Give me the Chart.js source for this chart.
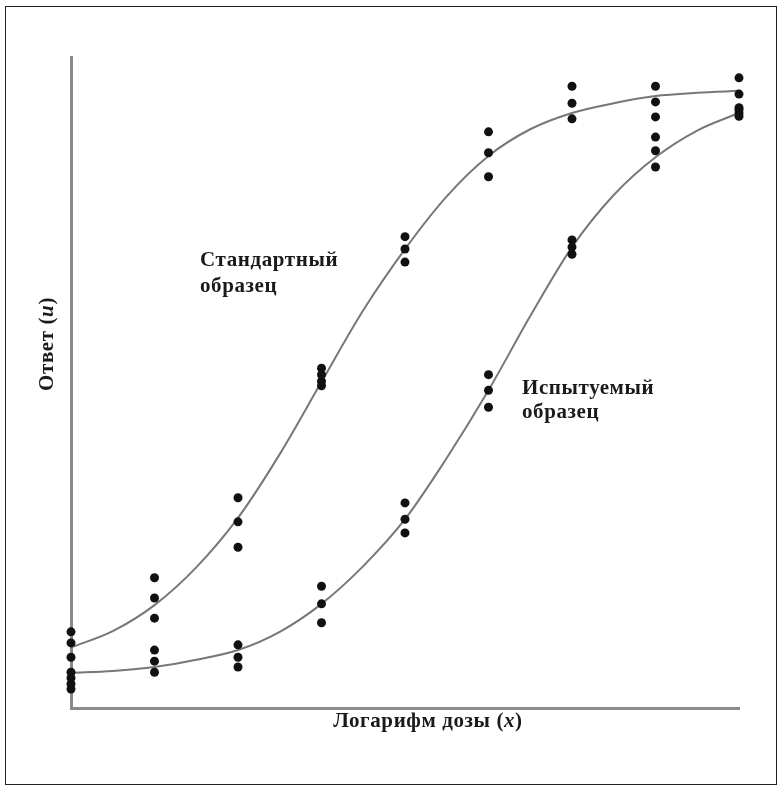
<!DOCTYPE html>
<html>
<head>
<meta charset="utf-8">
<script src="https://cdn.jsdelivr.net/npm/chart.js@4.4.1/dist/chart.umd.min.js"></script>
<style>
  html, body { margin: 0; padding: 0; background: #fff; }
  #wrap { position: relative; width: 784px; height: 791px; }
  #frame { position: absolute; left: 5px; top: 6px; width: 772px; height: 779px; border: 1px solid #222; box-sizing: border-box; pointer-events: none; }
  canvas { position: absolute; left: 0; top: 0; }
</style>
</head>
<body>
<div id="wrap">
  <canvas id="chart" width="784" height="791"></canvas>
  <div id="frame"></div>
</div>
<script>
// log dose positions (x) for the dose columns
const doses = [0, 1, 2, 3, 4, 5, 6, 7, 8];

const standardObs = [
  [11.7, 10.0, 7.8],
  [20.0, 16.9, 13.8],
  [32.3, 28.6, 24.7],
  [52.2, 51.2, 50.2, 49.5],
  [72.4, 70.5, 68.5],
  [88.5, 85.3, 81.6],
  [95.5, 92.9, 90.5],
  [95.5, 93.1, 90.8],
  [96.8, 94.3, 92.2]
];
const testObs = [
  [5.5, 4.6, 3.7, 2.9],
  [8.9, 7.2, 5.5],
  [9.7, 7.8, 6.3],
  [18.7, 16.0, 13.1],
  [31.5, 29.0, 26.9],
  [51.2, 48.8, 46.2],
  [71.9, 70.8, 69.7],
  [87.7, 85.6, 83.1],
  [91.9, 91.4, 90.9]
];

// fitted curves, read at half-dose steps
const curveX = [0, 0.5, 1, 1.5, 2, 2.5, 3, 3.5, 4, 4.5, 5, 5.5, 6, 6.5, 7, 7.5, 8];
const standardCurve = [9.3, 11.8, 15.8, 21.6, 29.2, 39.0, 50.1, 61.1, 70.5, 78.6, 84.8, 88.9, 91.4, 92.9, 94.0, 94.5, 94.8];
const testCurve = [5.4, 5.7, 6.3, 7.4, 8.9, 11.7, 16.0, 21.8, 29.0, 38.4, 48.8, 60.2, 70.8, 78.8, 84.6, 88.7, 91.4];

const toPoints = (obs) => {
  const pts = [];
  obs.forEach((vals, i) => vals.forEach(v => pts.push({ x: doses[i], y: v })));
  return pts;
};
const toLine = (ys) => curveX.map((x, i) => ({ x: x, y: ys[i] }));

const SERIF = '"Liberation Serif", "DejaVu Serif", serif';

// axis titles and curve labels drawn as canvas text
const labelsPlugin = {
  id: 'labels',
  afterDraw(chart) {
    const ctx = chart.ctx;
    ctx.save();
    ctx.fillStyle = '#1a1a1a';
    ctx.textBaseline = 'middle';
    ctx.letterSpacing = '0.6px';

    const drawParts = (parts, cx, cy) => {
      let total = 0;
      parts.forEach(p => { ctx.font = p.font; total += ctx.measureText(p.text).width; });
      let x = cx - total / 2;
      ctx.textAlign = 'left';
      parts.forEach(p => {
        ctx.font = p.font;
        ctx.fillText(p.text, x, cy);
        x += ctx.measureText(p.text).width;
      });
    };

    const bold = 'bold 21px ' + SERIF;
    const boldIt = 'italic bold 21px ' + SERIF;

    drawParts([
      { text: 'Логарифм дозы (', font: bold },
      { text: 'x', font: boldIt },
      { text: ')', font: bold }
    ], 428, 722);

    ctx.save();
    ctx.translate(48, 344);
    ctx.rotate(-Math.PI / 2);
    drawParts([
      { text: 'Ответ (', font: bold },
      { text: 'u', font: boldIt },
      { text: ')', font: bold }
    ], 0, 0);
    ctx.restore();

    ctx.font = bold;
    ctx.textAlign = 'left';
    ctx.fillText('Стандартный', 200, 261);
    ctx.fillText('образец', 200, 287);
    ctx.fillText('Испытуемый', 522, 389);
    ctx.fillText('образец', 522, 413);
    ctx.restore();
  }
};

const dotStyle = {
  type: 'scatter',
  showLine: false,
  pointRadius: 4.5,
  pointBackgroundColor: '#111',
  pointBorderWidth: 0,
  clip: false
};
const lineStyle = {
  type: 'line',
  borderColor: '#777',
  borderWidth: 2,
  pointRadius: 0,
  cubicInterpolationMode: 'monotone',
  fill: false,
  clip: false
};

new Chart(document.getElementById('chart'), {
  type: 'scatter',
  data: {
    datasets: [
      Object.assign({ label: 'Стандартный образец', data: toPoints(standardObs) }, dotStyle),
      Object.assign({ label: 'Испытуемый образец', data: toPoints(testObs) }, dotStyle),
      Object.assign({ label: 'Стандартный (кривая)', data: toLine(standardCurve) }, lineStyle),
      Object.assign({ label: 'Испытуемый (кривая)', data: toLine(testCurve) }, lineStyle)
    ]
  },
  options: {
    responsive: false,
    animation: false,
    layout: { padding: { left: 63, right: 45, top: 57, bottom: 75 } },
    plugins: { legend: { display: false }, tooltip: { enabled: false } },
    scales: {
      x: {
        type: 'linear',
        min: 0,
        max: 8,
        ticks: { display: false },
        grid: { display: false },
        border: { display: true, color: '#8a8a8a', width: 3 }
      },
      y: {
        min: 0,
        max: 100,
        ticks: { display: false },
        grid: { display: false },
        border: { display: true, color: '#8a8a8a', width: 3 }
      }
    }
  },
  plugins: [labelsPlugin]
});
</script>
</body>
</html>
